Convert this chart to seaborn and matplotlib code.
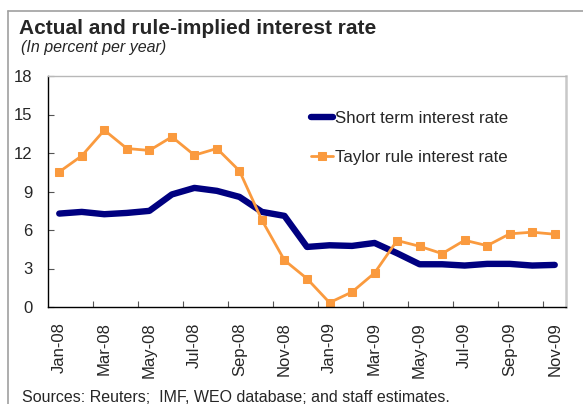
import matplotlib
matplotlib.use("Agg")
import matplotlib.pyplot as plt
from matplotlib.lines import Line2D
import seaborn as sns
import pandas as pd
import numpy as np

months = ["Jan-08", "Feb-08", "Mar-08", "Apr-08", "May-08", "Jun-08", "Jul-08", "Aug-08",
          "Sep-08", "Oct-08", "Nov-08", "Dec-08", "Jan-09", "Feb-09", "Mar-09", "Apr-09",
          "May-09", "Jun-09", "Jul-09", "Aug-09", "Sep-09", "Oct-09", "Nov-09"]
short_rate = [7.28, 7.41, 7.23, 7.33, 7.49, 8.77, 9.28, 9.05, 8.58, 7.41, 7.10, 4.68,
              4.81, 4.76, 4.99, 4.19, 3.33, 3.33, 3.23, 3.36, 3.36, 3.23, 3.28]
taylor_rate = [10.53, 11.78, 13.78, 12.35, 12.20, 13.26, 11.83, 12.35, 10.61, 6.76, 3.64, 2.21,
               0.34, 1.17, 2.65, 5.18, 4.73, 4.16, 5.20, 4.78, 5.70, 5.83, 5.67]
series_names = ["Short term interest rate", "Taylor rule interest rate"]
y_ticks = [0, 3, 6, 9, 12, 15, 18]

sns.set_theme(style="white")
plt.rcParams["font.family"] = ["Liberation Sans", "DejaVu Sans"]

pos = np.arange(len(months))
df = pd.DataFrame({
    "pos": np.concatenate([pos, pos]),
    "value": short_rate + taylor_rate,
    "series": [series_names[0]] * len(months) + [series_names[1]] * len(months),
})

fig = plt.figure(figsize=(5.83, 4.04), dpi=100)
ax = fig.add_axes([48 / 583, 1 - 307 / 404, (566 - 48) / 583, (307 - 76) / 404])

navy = "#000080"
orange = "#FA9A3E"

sns.lineplot(data=df[df.series == series_names[0]], x="pos", y="value", ax=ax,
             color=navy, linewidth=4.6, label=series_names[0], solid_capstyle="round")
sns.lineplot(data=df[df.series == series_names[1]], x="pos", y="value", ax=ax,
             color=orange, linewidth=2.0, marker="s", markersize=5.5,
             markeredgecolor=orange, label=series_names[1])

ax.set_xlim(-0.5, len(months) - 0.5)
ax.set_ylim(0, 18)
ax.set_yticks(y_ticks)
ax.set_yticklabels([str(v) for v in y_ticks], fontsize=12)
ax.set_xticks(pos[::2])
ax.set_xticklabels(months[::2], rotation=90, fontsize=12)
ax.set_xticks(np.arange(1.5, len(months) - 1, 2), minor=True)
ax.tick_params(axis="x", which="major", length=0, pad=11)
ax.tick_params(axis="x", which="minor", direction="in", length=4, width=0.8, color="#555555", bottom=True)
ax.tick_params(axis="y", which="major", direction="in", length=4, width=0.8, color="#555555", pad=11, left=True)
ax.set_xlabel("")
ax.set_ylabel("")

for side in ["left", "bottom"]:
    ax.spines[side].set_color("black")
    ax.spines[side].set_linewidth(1.0)
ax.spines["top"].set_color("#b8b8b8")
ax.spines["top"].set_linewidth(1.0)
ax.spines["right"].set_color("#c8c8c8")
ax.spines["right"].set_linewidth(1.8)

leg = ax.legend(loc="center left", bbox_to_anchor=(0.508, 0.732), frameon=False,
                fontsize=12.2, handlelength=1.3, handletextpad=0.1, labelspacing=1.4,
                borderpad=0, borderaxespad=0)

fig.text(19 / 583, 1 - 34.5 / 404, "Actual and rule-implied interest rate",
         fontsize=15, fontweight="bold", ha="left", va="baseline")
fig.text(21 / 583, 1 - 52 / 404, "(In percent per year)",
         fontsize=11.5, fontstyle="italic", ha="left", va="baseline")
fig.text(22 / 583, 1 - 402 / 404, "Sources: Reuters;  IMF, WEO database; and staff estimates.",
         fontsize=11.5, ha="left", va="baseline")

# outer frame lines
fig.add_artist(Line2D([8 / 583, 8 / 583], [0, 1 - 11 / 404], color="#a0a0a0", lw=1.2,
                      transform=fig.transFigure))
fig.add_artist(Line2D([8 / 583, 1], [1 - 11 / 404, 1 - 11 / 404], color="#a0a0a0", lw=1.2,
                      transform=fig.transFigure))

fig.savefig("out.png", dpi=100, facecolor="white")
